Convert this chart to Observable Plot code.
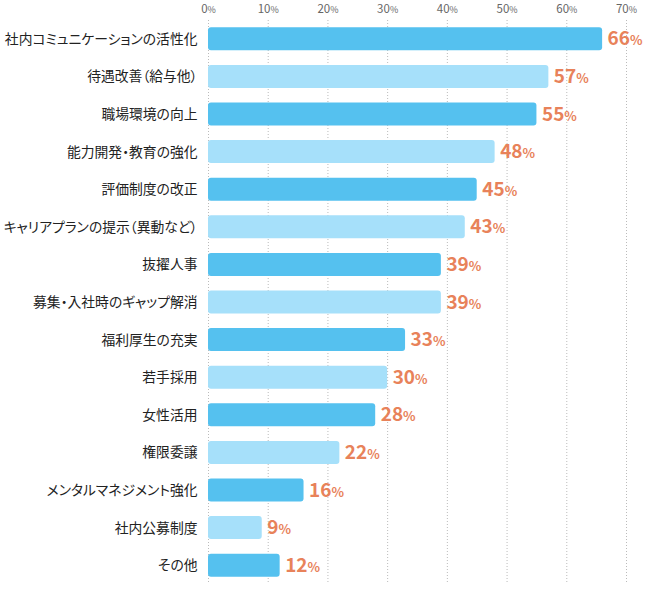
<!DOCTYPE html>
<html><head><meta charset="utf-8">
<script src="https://cdn.jsdelivr.net/npm/d3@7"></script>
<script src="https://cdn.jsdelivr.net/npm/@observablehq/plot@0.6"></script>
<style>
body{margin:0;background:#fff;}
#chart svg{font-family:"Noto Sans CJK JP","Noto Sans",sans-serif;}
.yt text{font-feature-settings:"palt";}
</style>
</head><body><div id="chart"></div>
<script>
const categories = ["社内コミュニケーションの活性化","待遇改善（給与他）","職場環境の向上","能力開発・教育の強化","評価制度の改正","キャリアプランの提示（異動など）","抜擢人事","募集・入社時のギャップ解消","福利厚生の充実","若手採用","女性活用","権限委譲","メンタルマネジメント強化","社内公募制度","その他"];
const values = [66,57,55,48,45,43,39,39,33,30,28,22,16,9,12];
const ticks = [0,10,20,30,40,50,60,70];
const colors = ["#55c1ef","#a6e0fa"];

const data = categories.map((c,i)=>({cat:c, v:values[i], c:colors[i%2]}));

const chart = Plot.plot({
  width:650, height:591,
  marginLeft:208, marginRight:24, marginTop:20, marginBottom:7,
  x:{domain:[0,70], ticks, axis:null},
  y:{domain:categories, paddingInner:0.389, paddingOuter:0.1945, round:false, axis:null},
  marks:[
    Plot.gridX(ticks,{stroke:"#bbb", strokeOpacity:1, strokeDasharray:"1,2", strokeWidth:1}),
    Plot.barX(data,{y:"cat", x:"v", fill:"c", rx:3}),
    Plot.axisX(ticks,{anchor:"top", tickSize:0, tickPadding:8, fontSize:11.5, fill:"#666", tickFormat:d=>d+"%", label:null, className:"xt"}),
    Plot.axisY({tickSize:0, tickPadding:11, fontSize:13.8, fill:"#222", label:null, className:"yt"}),
    Plot.text(data,{y:"cat", x:"v", text:d=>d.v+"%", dx:5, textAnchor:"start", fill:"#e8825a", fontSize:19, fontWeight:"bold", className:"vl"})
  ]
});
document.getElementById("chart").appendChild(chart);

function splitPct(sel, size){
  chart.querySelectorAll(sel).forEach(t=>{
    const s=t.textContent;
    if(!s.endsWith("%")) return;
    t.textContent=s.slice(0,-1);
    const ts=document.createElementNS("http://www.w3.org/2000/svg","tspan");
    ts.setAttribute("font-size",size);
    ts.textContent="%";
    t.appendChild(ts);
  });
}
splitPct(".vl text",13);
splitPct(".xt text",9);
</script></body></html>
